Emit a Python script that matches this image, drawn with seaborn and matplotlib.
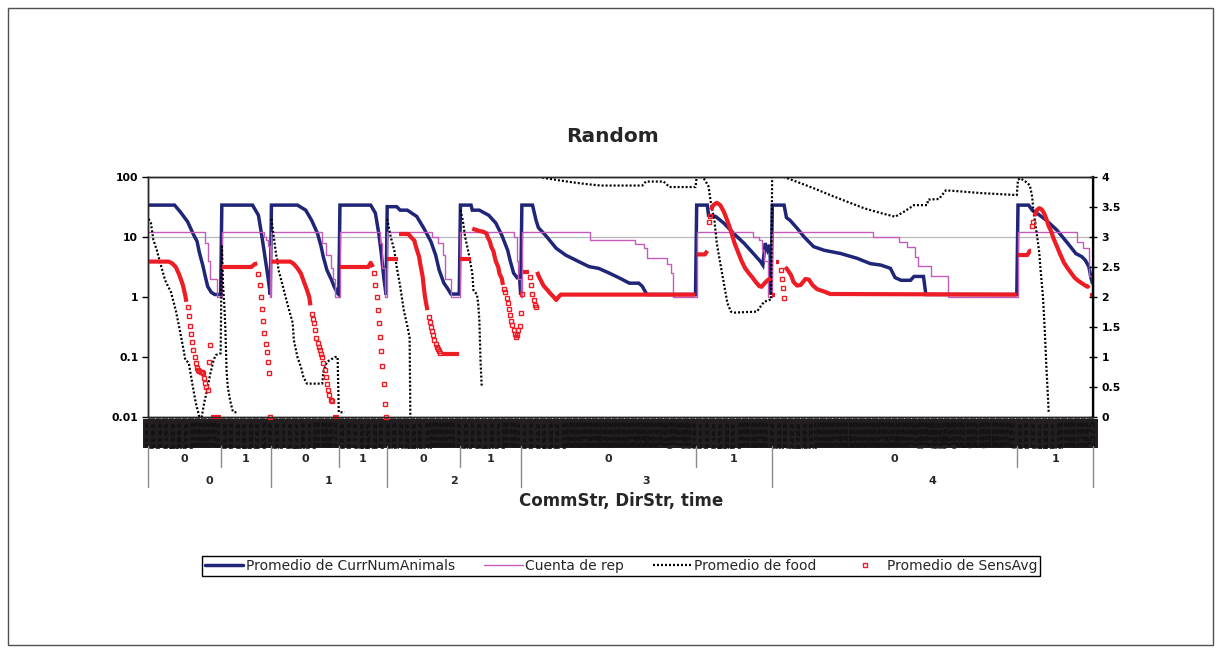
import numpy as np
import pandas as pd
import matplotlib
matplotlib.use("Agg")
import matplotlib.pyplot as plt
import matplotlib.transforms as mtransforms
from matplotlib.lines import Line2D
from matplotlib.patches import Rectangle
import seaborn as sns

# ---------------------------------------------------------------- categories
COMM_STR = [0, 0, 1, 1, 2, 2, 3, 3, 4, 4]
DIR_STR = [0, 1, 0, 1, 0, 1, 0, 1, 0, 1]
GROUP_SIZES = [62, 42, 58, 40, 62, 52, 148, 64, 208, 64]   # time points per (CommStr, DirStr)
TIME_START = 1000
TIME_STEP = 25

# ---------------------------------------------------------------- series (category position, value)
# Promedio de CurrNumAnimals  (left, log axis)
animals_pos = [0, 22, 27, 33, 38, 41, 43, 46, 48, 50, 53, 56, 61,
               62, 88, 93, 96, 99, 101, 103,
               104, 126, 133, 138, 143, 146, 148, 151, 155, 157, 160, 161,
               162, 188, 192, 195, 197, 199, 201,
               202, 210, 213, 219, 227, 233, 239, 243, 246, 250, 253, 256, 263,
               264, 273, 274, 280, 288, 294, 299, 304, 306, 309, 312, 314, 315,
               316, 325, 328, 330, 336, 345, 353, 364, 373, 381, 390, 398, 407, 415, 418, 421, 422, 463,
               464, 473, 474, 480, 487, 495, 504, 512, 518, 520, 522, 524, 526, 527,
               528, 538, 540, 543, 549, 555, 563, 572, 586, 600, 611, 620, 628, 632, 637, 645, 648, 656, 658, 735,
               736, 745, 748, 752, 760, 769, 778, 785, 790, 793, 796, 798, 799]
animals_val = [34, 34, 26, 18, 11, 8.5, 5.5, 3.3, 2.2, 1.5, 1.2, 1.1, 1.1,
               34, 34, 23, 10, 4.1, 2.2, 1.1,
               34, 34, 28, 19, 11.5, 7, 4.6, 2.8, 1.9, 1.5, 1.15, 1.1,
               34, 34, 25, 11, 5.3, 2.2, 1.1,
               32, 32, 28, 28, 22, 14, 8.4, 5, 2.8, 1.7, 1.4, 1.12, 1.12,
               34, 34, 28, 28, 23, 17, 10.7, 6, 4.1, 2.5, 2.1, 2.2, 1.1,
               34, 34, 19, 14.3, 10.7, 6.5, 5.0, 3.9, 3.2, 3.0, 2.5, 2.1, 1.7, 1.7, 1.5, 1.17, 1.1, 1.1,
               34, 34, 23, 22, 17, 11.6, 7.9, 5.3, 3.9, 3.4, 7.9, 6, 7.4, 1.1,
               34, 34, 21, 19, 14, 10, 6.9, 6.0, 5.3, 4.4, 3.6, 3.4, 3.0, 2.1, 1.9, 1.9, 2.2, 2.2, 1.1, 1.1,
               34, 34, 28, 25, 19, 13, 7.9, 5.3, 4.7, 4.1, 3.2, 2.0, 1.7]

# Cuenta de rep  (left, log axis, stepped)
rep_pos = [0, 48, 50, 52, 58,
           62, 98, 99, 101, 103,
           104, 147, 150, 154, 156, 158,
           162, 196, 198, 200,
           202, 240, 245, 249, 251, 256,
           264, 309, 312, 313, 315,
           316, 374, 412, 419, 422, 439, 442, 444,
           464, 512, 517, 519, 521, 524,
           528, 613, 635, 642, 649, 651, 662, 677,
           736, 786, 791, 796, 799]
rep_val = [12, 8, 4, 2, 1,
           12, 10, 9, 7, 1,
           12, 8, 5, 3, 2, 1,
           12, 8, 3, 1,
           12, 10, 8, 5, 2, 1,
           12, 10, 4, 2, 1,
           12, 9, 7.6, 6.5, 4.4, 3.6, 2.5, 1,
           12, 10, 8.8, 6, 4, 1,
           12, 10, 8.4, 6.7, 4.6, 3.3, 2.2, 1,
           12, 8.4, 6.5, 2.2, 1]

# Promedio de food  (left, log axis; zero values are not drawn)
food_pos = [0, 2, 4, 7, 10, 14, 19, 23, 26, 30, 31, 34, 37, 40, 43, 45, 47, 50, 52, 55, 57, 61,
            62, 63, 64, 65, 66, 67, 69, 71, 72, 76, 77,
            104, 106, 108, 109, 110, 113, 116, 119, 122, 123, 126, 129, 131, 134, 147, 148, 151, 158, 160, 161, 166, 167,
            202, 205, 208, 210, 213, 216, 219, 221, 222, 223,
            264, 266, 268, 271, 274, 275, 278, 279, 280, 281, 282, 283,
            316, 326, 332, 337, 349, 360, 371, 383, 418, 421, 436, 441, 463,
            464, 466, 470, 474, 476, 479, 481, 484, 487, 490, 493, 496, 515, 518, 521, 525, 527,
            528, 538, 549, 563, 577, 591, 606, 620, 632, 639, 648, 659, 660, 669, 675, 690, 704, 735,
            736, 738, 742, 746, 748, 749, 752, 754, 755, 757, 758, 759, 760, 761, 762, 763]
food_val = [20, 17, 9, 6, 3.6, 1.9, 1.2, 0.6, 0.31, 0.12, 0.09, 0.08, 0.036, 0.017, 0.01, 0.01, 0.017, 0.031, 0.05, 0.089, 0.108, 0.115,
            7, 1.6, 0.8, 0.3, 0.06, 0.032, 0.019, 0.013, 0.012, 0.012, 0,
            20, 10, 5, 4.1, 2.8, 1.7, 1.0, 0.6, 0.37, 0.19, 0.1, 0.068, 0.047, 0.036, 0.036, 0.057, 0.083, 0.1, 0.1, 0.012, 0.012, 0,
            20, 10, 6, 3.2, 1.5, 0.61, 0.33, 0.21, 0.001, 0,
            28, 19, 10, 5.3, 2.5, 1.3, 1.1, 0.79, 0.41, 0.087, 0.033, 0,
            160, 120, 100, 95, 87, 81, 76, 72, 72, 84, 84, 68, 68,
            100, 104, 95, 70, 37, 19, 7.9, 3.6, 1.7, 0.79, 0.57, 0.55, 0.57, 0.69, 0.83, 0.89, 0.9,
            200, 100, 83, 65, 50, 39, 30, 25, 21.8, 26, 34, 34, 42, 43, 60, 57, 54, 50,
            90, 95, 85, 73, 47, 28, 11, 5.5, 3, 1.1, 0.5, 0.2, 0.07, 0.03, 0.012, 0]

# Promedio de SensAvg  (right axis): dense stretches (None separates stretches) ...
sens_run_pos = [0, 17, 20, 23, 26, 29, 31, 32, None,
                53, 61, None,
                62, 87, 90, 92, None,
                104, 120, 123, 126, 129, 131, 134, 136, 137, None,
                156, 161, None,
                162, 186, 188, 190, None,
                202, 211, None,
                212, 220, 222, 225, 226, 229, 230, 232, 233, 234, 236, None,
                248, 263, None,
                264, 273, None,
                274, 277, 280, 283, 286, 287, 289, 290, 292, 293, 294, 296, 297, 299, 300, None,
                317, 322, None,
                329, 330, 332, 334, 336, 338, 340, 343, 345, 347, 349, 463, None,
                464, 471, 473, None,
                476, 478, 481, 484, 487, 490, 493, 496, 499, 502, 505, 508, 511, 514, 517, 519, 521, 524, 527, None,
                528, 530, None,
                531, 534, None,
                539, 541, 544, 546, 549, 552, 556, 559, 562, 566, 572, 577, 735, None,
                736, 744, 746, 747, None,
                750, 752, 754, 756, 758, 760, 762, 764, 766, 769, 772, 775, 778, 781, 784, 787, 790, 793, 795, 796, None,
                797, 799]
sens_run_val = [2.59, 2.59, 2.56, 2.5, 2.37, 2.2, 2.03, 1.92, None,
                0, 0, None,
                2.5, 2.5, 2.55, 2.56, None,
                2.59, 2.59, 2.55, 2.48, 2.39, 2.28, 2.12, 2.0, 1.86, None,
                0, 0, None,
                2.5, 2.5, 2.57, 2.5, None,
                2.63, 2.63, None,
                3.05, 3.05, 3.0, 2.94, 2.86, 2.67, 2.55, 2.34, 2.16, 2.0, 1.78, None,
                1.05, 1.05, None,
                2.63, 2.63, None,
                3.14, 3.12, 3.1, 3.09, 3.06, 3.0, 2.92, 2.84, 2.76, 2.67, 2.59, 2.5, 2.39, 2.31, 2.2, None,
                2.42, 2.42, None,
                2.42, 2.36, 2.28, 2.2, 2.15, 2.11, 2.06, 2.0, 1.95, 2.0, 2.04, 2.04, None,
                2.71, 2.71, 2.77, None,
                3.45, 3.53, 3.57, 3.53, 3.42, 3.27, 3.1, 2.9, 2.75, 2.6, 2.48, 2.4, 2.33, 2.25, 2.18, 2.17, 2.22, 2.28, 2.31, None,
                2.04, 2.04, None,
                2.59, 2.59, None,
                2.5, 2.45, 2.36, 2.25, 2.19, 2.2, 2.3, 2.29, 2.2, 2.13, 2.09, 2.05, 2.04, None,
                2.7, 2.7, 2.77, 2.77, None,
                3.35, 3.45, 3.48, 3.46, 3.4, 3.3, 3.18, 3.1, 2.98, 2.84, 2.7, 2.57, 2.48, 2.4, 2.32, 2.27, 2.23, 2.19, 2.17, 2.2, None,
                2.04, 2.04]
# ... and isolated points where the averages fall quickly
sens_dot_pos = [33, 34, 35, 36, 37, 38, 39, 40, 41, 42, 43, 44, 45, 46, 47, 48, 49, 50, 51, 52,
                93, 94, 95, 96, 97, 98, 99, 100, 101, 102, 103,
                138, 139, 140, 141, 142, 143, 144, 145, 146, 147, 148, 149, 150, 151, 152, 153, 154, 155,
                191, 192, 193, 194, 195, 196, 197, 198, 199, 200, 201,
                237, 238, 239, 240, 241, 242, 243, 244, 245, 246, 247,
                301, 302, 303, 304, 305, 306, 307, 308, 309, 310, 311, 312, 313, 314, 315,
                316, 323, 324, 325, 326, 327, 328,
                474, 475,
                535, 536, 537, 538,
                748, 749]
sens_dot_val = [1.84, 1.68, 1.52, 1.38, 1.25, 1.12, 1.0, 0.9, 0.82, 0.78, 0.76, 0.75, 0.75, 0.74, 0.65, 0.56, 0.5, 0.45, 0.92, 1.2,
                2.39, 2.2, 2.0, 1.8, 1.6, 1.4, 1.22, 1.08, 0.92, 0.74, 0.0,
                1.72, 1.64, 1.56, 1.45, 1.32, 1.23, 1.17, 1.12, 1.05, 1.0, 0.9, 0.78, 0.67, 0.55, 0.45, 0.36, 0.28, 0.26,
                2.4, 2.2, 2.0, 1.78, 1.56, 1.33, 1.1, 0.85, 0.55, 0.22, 0.0,
                1.67, 1.58, 1.5, 1.44, 1.36, 1.28, 1.22, 1.17, 1.13, 1.1, 1.07,
                2.14, 2.09, 1.98, 1.9, 1.8, 1.7, 1.6, 1.53, 1.45, 1.38, 1.34, 1.37, 1.45, 1.52, 1.73,
                2.05, 2.34, 2.2, 2.05, 1.95, 1.87, 1.84,
                3.25, 3.35,
                2.45, 2.3, 2.15, 1.98,
                3.18, 3.25]

LOG_TICKS = [0.01, 0.1, 1, 10, 100]
LOG_TICK_LABELS = ["0.01", "0.1", "1", "10", "100"]
RIGHT_TICKS = [0, 0.5, 1, 1.5, 2, 2.5, 3, 3.5, 4]
RIGHT_TICK_LABELS = ["0", "0.5", "1", "1.5", "2", "2.5", "3", "3.5", "4"]
REF_LEVEL = 10

NAVY = "#1f2577"
PLUM = "#c45cbc"
RED = "#ee1d25"
GRID = "#b8b8b8"
SEP = "#8a8a8a"
BAND = "#231f20"

LEGEND_LABELS = ["Promedio de CurrNumAnimals", "Cuenta de rep",
                 "Promedio de food", "Promedio de SensAvg"]


def to_frame(pos, val, drop_nonpositive):
    """Split a (pos, value) list into line pieces at None / non-drawable values."""
    rows, piece = [], 0
    for p, v in zip(pos, val, strict=True):
        if p is None or v is None or (drop_nonpositive and v <= 0):
            piece += 1
            continue
        rows.append((p, v, piece))
    return pd.DataFrame(rows, columns=["pos", "value", "piece"])


# ---------------------------------------------------------------- figure
W, H = 1221, 652
sns.set_style("white")
plt.rcParams["font.family"] = ["DejaVu Sans"]
plt.rcParams["axes.linewidth"] = 1.0

fig = plt.figure(figsize=(W / 100, H / 100), dpi=100)
fig.patch.set_facecolor("white")


def fx(px):
    return px / W


def fy(py):
    return 1 - py / H


ax = fig.add_axes([fx(148), fy(417), 945 / W, 240 / H])
ax.set_yscale("log", nonpositive="mask")

n_cat = sum(GROUP_SIZES)
starts = np.cumsum([0] + GROUP_SIZES[:-1])

ax.axhline(REF_LEVEL, color=GRID, lw=0.9, zorder=0.5)

animals_df = to_frame(animals_pos, animals_val, True)
rep_df = to_frame(rep_pos, rep_val, True)
food_df = to_frame(food_pos, food_val, True)

sns.lineplot(data=animals_df, x="pos", y="value", units="piece", estimator=None,
             color=NAVY, lw=2.5, ax=ax, solid_joinstyle="miter")
sns.lineplot(data=rep_df, x="pos", y="value", units="piece", estimator=None,
             color=PLUM, lw=1.0, drawstyle="steps-post", ax=ax)
sns.lineplot(data=food_df, x="pos", y="value", units="piece", estimator=None,
             color="black", lw=1.6, linestyle=(0, (0.9, 0.9)), ax=ax)

ax.set_xlim(-0.5, n_cat - 0.5)
ax.set_ylim(0.01, 100)
ax.set_yticks(LOG_TICKS)
ax.set_yticklabels(LOG_TICK_LABELS)
ax.yaxis.set_minor_locator(matplotlib.ticker.NullLocator())
ax.set_xlabel("")
ax.set_ylabel("")

# time tick labels on every category; at this density the rotated labels
# run together into one dark band under the plot
time_labels = []
for n in GROUP_SIZES:
    time_labels += [str(TIME_START + k * TIME_STEP) for k in range(n)]
ax.set_xticks(np.arange(n_cat))
ax.set_xticklabels(time_labels, rotation=90, fontsize=7.2, fontweight="bold")
ax.tick_params(axis="x", bottom=True, direction="out", length=1.5, width=0.4,
               pad=0.3, colors="black", labelcolor="#141212")
for lab in ax.get_xticklabels():
    lab.set_bbox(dict(facecolor=BAND, edgecolor="none", pad=0.25))
ax.tick_params(axis="y", left=True, length=4, width=1, direction="out",
               labelsize=7.8, pad=3, colors="black")
for lab in ax.get_yticklabels():
    lab.set_fontweight("bold")
for side in ["left", "top", "bottom", "right"]:
    ax.spines[side].set_color("black")
    ax.spines[side].set_linewidth(1.0)

# secondary axis for SensAvg
ax2 = ax.twinx()
run_df = to_frame(sens_run_pos, sens_run_val, False)
dot_df = to_frame(sens_dot_pos, sens_dot_val, False)
sns.lineplot(data=run_df, x="pos", y="value", units="piece", estimator=None,
             color=RED, lw=3.0, solid_capstyle="butt", clip_on=False, ax=ax2)
sns.lineplot(data=dot_df, x="pos", y="value", units="piece", estimator=None,
             color=RED, linestyle="none", marker="s", markersize=3.2,
             mfc="none", mec=RED, mew=1.0, clip_on=False, ax=ax2)
ax2.set_xlim(-0.5, n_cat - 0.5)
ax2.set_ylim(0, 4)
ax2.set_yticks(RIGHT_TICKS)
ax2.set_yticklabels(RIGHT_TICK_LABELS)
ax2.set_ylabel("")
ax2.set_xlabel("")
ax2.tick_params(axis="y", right=True, length=6, width=1, direction="inout",
                labelsize=7.8, pad=3, colors="black")
for lab in ax2.get_yticklabels():
    lab.set_fontweight("bold")
ax2.spines["right"].set_color("black")
ax2.spines["right"].set_linewidth(1.6)

# multi-level category labels under the time band
blend = mtransforms.blended_transform_factory(ax.transData, fig.transFigure)
for g, (s, n) in enumerate(zip(starts, GROUP_SIZES)):
    ax.text(s + (n - 1) / 2, fy(459), str(DIR_STR[g]), transform=blend,
            ha="center", va="center", fontsize=8, fontweight="bold", clip_on=False)
    left = s - 0.5
    long_line = g == 0 or COMM_STR[g] != COMM_STR[g - 1]
    y_end = fy(487) if long_line else fy(467)
    fig.add_artist(Line2D([left, left], [fy(446), y_end], transform=blend,
                          color=SEP, lw=1.0))
fig.add_artist(Line2D([n_cat - 0.5, n_cat - 0.5], [fy(446), fy(487)], transform=blend,
                      color=SEP, lw=1.0))
for c in sorted(set(COMM_STR)):
    members = [g for g in range(len(COMM_STR)) if COMM_STR[g] == c]
    lo = starts[members[0]]
    hi = starts[members[-1]] + GROUP_SIZES[members[-1]] - 1
    ax.text((lo + hi) / 2, fy(481), str(c), transform=blend,
            ha="center", va="center", fontsize=8, fontweight="bold", clip_on=False)

fig.text(fx(613), fy(137), "Random", ha="center", va="center",
         fontsize=14.5, fontweight="bold")
fig.text(fx(621), fy(501), "CommStr, DirStr, time", ha="center", va="center",
         fontsize=12, fontweight="bold")

handles = [Line2D([], [], color=NAVY, lw=2.5),
           Line2D([], [], color=PLUM, lw=1.0),
           Line2D([], [], color="black", lw=1.6, linestyle=(0, (0.9, 0.9))),
           Line2D([], [], color=RED, linestyle="none", marker="s", markersize=2.2,
                  mfc="none", mec=RED, mew=1.0)]
leg = fig.legend(handles, LEGEND_LABELS, loc="center", bbox_to_anchor=(fx(621), fy(566)),
                 ncol=4, fontsize=10, frameon=True, fancybox=False, framealpha=1,
                 edgecolor="black", handlelength=2.8, handletextpad=0.2,
                 columnspacing=2.05, borderpad=0.2, borderaxespad=0)
leg.get_frame().set_linewidth(1.0)

fig.add_artist(Rectangle((fx(8), fy(645)), (1213 - 8) / W, (645 - 8) / H,
                         transform=fig.transFigure, fill=False, ec="#505050", lw=1.0))

fig.savefig("out.png", dpi=100, facecolor="white")
